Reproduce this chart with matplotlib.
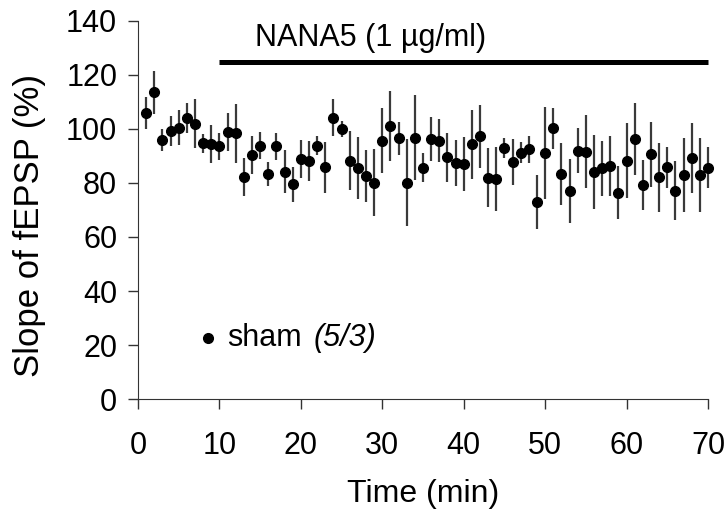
import matplotlib.pyplot as plt

plt.rcParams['font.family'] = ['Liberation Sans', 'DejaVu Sans']
plt.rcParams['font.size'] = 22

# time points (min)
time = list(range(1, 71))

# mean slope of fEPSP (%)
slope = [105.8, 113.6, 95.9, 99.3, 100.5, 104.0, 102.0, 94.7, 94.4, 93.5,
         98.8, 98.4, 82.1, 90.4, 93.8, 83.3, 93.5, 84.2, 79.5, 88.9,
         88.1, 93.8, 85.8, 104.2, 100.0, 88.3, 85.4, 82.6, 80.1, 95.7,
         101.1, 96.5, 80.1, 96.8, 85.7, 96.3, 95.7, 89.5, 87.3, 86.9,
         94.3, 97.2, 82.0, 81.5, 92.8, 87.7, 91.2, 92.5, 73.1, 91.2,
         100.2, 83.3, 77.1, 92.0, 91.6, 83.9, 85.4, 86.3, 76.4, 88.3,
         96.2, 79.3, 90.6, 82.1, 85.8, 77.1, 83.0, 89.1, 83.0, 85.7]

# SEM
sem = [6.0, 8.0, 4.0, 5.5, 6.5, 5.5, 9.0, 3.5, 7.0, 5.0,
       7.0, 11.0, 7.0, 7.0, 5.0, 4.5, 5.0, 8.0, 6.5, 7.0,
       7.5, 3.5, 9.5, 7.0, 3.0, 11.0, 11.5, 9.5, 12.5, 12.0,
       13.0, 6.0, 16.0, 15.7, 5.5, 8.0, 8.0, 9.0, 8.5, 10.0,
       12.7, 11.6, 11.0, 11.7, 3.7, 8.6, 4.0, 5.0, 10.0, 17.0,
       7.7, 11.5, 11.8, 8.4, 13.5, 13.7, 10.3, 11.0, 9.7, 13.8,
       13.4, 9.3, 12.0, 12.7, 7.5, 11.0, 13.7, 13.0, 13.6, 7.5]

drug_start = 10
drug_end = 70
drug_level = 124.6
drug_label = 'NANA5 (1 µg/ml)'

fig = plt.figure(figsize=(7.24, 5.09), dpi=100)
ax = fig.add_axes([0.1906, 0.216, 0.7874, 0.743])

ax.errorbar(time, slope, yerr=sem, fmt='o', color='black', ecolor='#3a3a3a',
            elinewidth=1.6, markersize=7, capsize=0, clip_on=False, zorder=3)

# drug application bar
ax.plot([drug_start, drug_end], [drug_level, drug_level], color='black',
        linewidth=3.6, solid_capstyle='butt', clip_on=False)
ax.text(28.6, 133.5, drug_label, ha='center', va='center')

# legend
ax.plot([8.6], [22.7], 'o', color='black', markersize=7)
ax.text(10.9, 22.5, 'sham', ha='left', va='center')
ax.text(21.5, 22.5, '(5/3)', ha='left', va='center', style='italic')

ax.set_xlim(0, 70)
ax.set_ylim(0, 140)
ax.set_xticks(range(0, 71, 10))
ax.set_yticks(range(0, 141, 20))
ax.spines['top'].set_visible(False)
ax.spines['right'].set_visible(False)
ax.spines['left'].set_color('#333333')
ax.spines['bottom'].set_color('#333333')
ax.tick_params(direction='out', length=7, width=1, color='#333333')
ax.tick_params(axis='x', pad=16)
ax.tick_params(axis='y', pad=8)

ax.set_xlabel('Time (min)', fontsize=23, labelpad=13)
ax.set_ylabel('Slope of fEPSP (%)', fontsize=25)
ax.yaxis.set_label_coords(-0.162, 0.46)

plt.savefig('out.png', dpi=100)
